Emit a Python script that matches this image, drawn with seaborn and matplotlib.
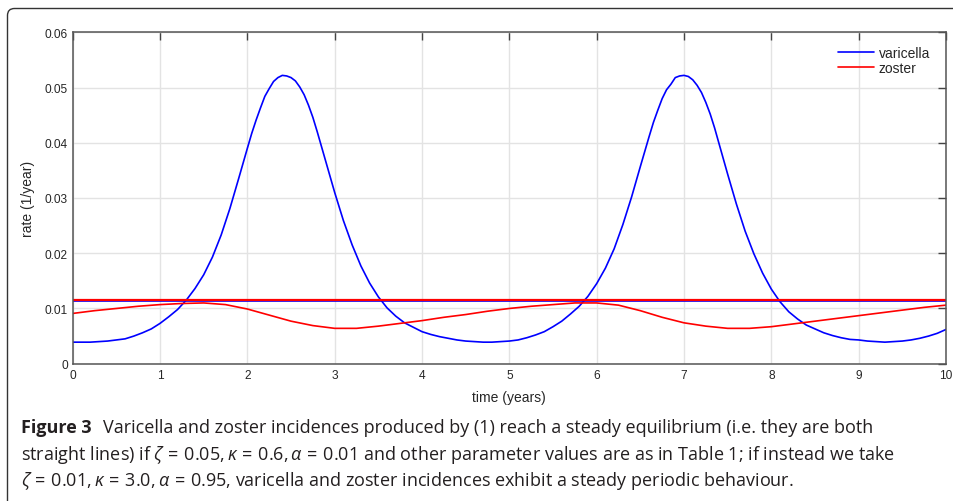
import numpy as np
import pandas as pd
import matplotlib
matplotlib.use("Agg")
import matplotlib.pyplot as plt
import seaborn as sns
from matplotlib.patches import FancyBboxPatch
from matplotlib.transforms import IdentityTransform

# ---------------- data ----------------
time = np.round(np.arange(0, 10.001, 0.1), 1)
varicella = [
    0.0039, 0.0039, 0.0039, 0.0040, 0.0041, 0.0043, 0.0045, 0.0050, 0.0056, 0.0063,
    0.0073, 0.0085, 0.0098, 0.0115, 0.0136, 0.0161, 0.0193, 0.0233, 0.0281, 0.0335,
    0.0390, 0.0441, 0.0484, 0.0511, 0.0522, 0.0518, 0.0501, 0.0468, 0.0420, 0.0365,
    0.0310, 0.0259, 0.0215, 0.0177, 0.0146, 0.0121, 0.0101, 0.0086, 0.0074, 0.0066,
    0.0058, 0.0053, 0.0049, 0.0046, 0.0043, 0.0041, 0.0040, 0.0039, 0.0039, 0.0040,
    0.0041, 0.0043, 0.0047, 0.0052, 0.0058, 0.0067, 0.0077, 0.0090, 0.0104, 0.0122,
    0.0145, 0.0173, 0.0208, 0.0252, 0.0302, 0.0357, 0.0411, 0.0459, 0.0496, 0.0518,
    0.0522, 0.0514, 0.0491, 0.0452, 0.0399, 0.0343, 0.0289, 0.0240, 0.0199, 0.0164,
    0.0135, 0.0112, 0.0094, 0.0081, 0.0070, 0.0063, 0.0056, 0.0051, 0.0047, 0.0044,
    0.0043, 0.0041, 0.0040, 0.0039, 0.0040, 0.0041, 0.0043, 0.0046, 0.0050, 0.0055,
    0.0062,
]
# extra readings around the two peaks
time_peaks = [2.05, 2.15, 2.25, 2.35, 2.45, 2.55, 2.65, 2.75,
              6.65, 6.75, 6.85, 6.95, 7.05, 7.15, 7.25, 7.35]
varicella_peaks = [0.0417, 0.0463, 0.0498, 0.0518, 0.0521, 0.0512, 0.0487, 0.0446,
                   0.0437, 0.0480, 0.0506, 0.0521, 0.0520, 0.0504, 0.0473, 0.0427]

time_zoster = np.round(np.arange(0, 10.001, 0.25), 2)
zoster = [
    0.0091, 0.0096, 0.0100, 0.0104, 0.0107, 0.0109, 0.0110, 0.0107, 0.0099, 0.0088,
    0.0077, 0.0069, 0.0064, 0.0064, 0.0068, 0.0073, 0.0078, 0.0084, 0.0089, 0.0095,
    0.0100, 0.0104, 0.0107, 0.0110, 0.0110, 0.0106, 0.0096, 0.0084, 0.0074, 0.0068,
    0.0064, 0.0064, 0.0067, 0.0072, 0.0077, 0.0082, 0.0087, 0.0092, 0.0097, 0.0102,
    0.0106,
]
time_steady = [0, 10]
varicella_steady = [0.01133, 0.01133]
zoster_steady = [0.01157, 0.01157]

xticks = list(range(0, 11))
yticks = [0, 0.01, 0.02, 0.03, 0.04, 0.05, 0.06]
ytick_labels = ["0", "0.01", "0.02", "0.03", "0.04", "0.05", "0.06"]
series_labels = ["varicella", "zoster"]

caption_lines = [
    [("Figure 3", "bold"),
     ("Varicella and zoster incidences produced by (1) reach a steady equilibrium (i.e. they are both", "normal")],
    [("straight lines) if $\\zeta\\,=\\,0.05,\\kappa\\,=\\,0.6,\\alpha\\,=\\,0.01$ and other parameter values are as in Table 1; if instead we take", "normal")],
    [("$\\zeta\\,=\\,0.01,\\kappa\\,=\\,3.0,\\alpha\\,=\\,0.95$, varicella and zoster incidences exhibit a steady periodic behaviour.", "normal")],
]

# ---------------- style ----------------
sns.set_theme(style="white")
plt.rcParams["font.family"] = ["Liberation Sans", "DejaVu Sans"]
plt.rcParams["mathtext.fontset"] = "custom"
plt.rcParams["mathtext.rm"] = "Open Sans"
plt.rcParams["mathtext.it"] = "Open Sans:italic"
plt.rcParams["mathtext.bf"] = "Open Sans:bold"

W, H = 954, 502
fig = plt.figure(figsize=(W / 100, H / 100), dpi=100)
fig.patch.set_facecolor("white")

ax_l, ax_r, ax_t, ax_b = 72.7, 946.0, 33.3, 364.7
ax = fig.add_axes([ax_l / W, 1 - ax_b / H, (ax_r - ax_l) / W, (ax_b - ax_t) / H])

df_var = pd.DataFrame({"time": np.concatenate([time, time_peaks]),
                       "rate": np.concatenate([varicella, varicella_peaks])}).sort_values("time")
df_zos = pd.DataFrame({"time": time_zoster, "rate": zoster})
df_vs = pd.DataFrame({"time": time_steady, "rate": varicella_steady})
df_zs = pd.DataFrame({"time": time_steady, "rate": zoster_steady})

blue, red = "#0000ff", "#ff0000"
sns.lineplot(data=df_var, x="time", y="rate", color=blue, lw=1.2, ax=ax, sort=True)
h_var = ax.lines[-1]
sns.lineplot(data=df_zos, x="time", y="rate", color=red, lw=1.2, ax=ax)
h_zos = ax.lines[-1]
sns.lineplot(data=df_vs, x="time", y="rate", color=blue, lw=1.2, ax=ax)
sns.lineplot(data=df_zs, x="time", y="rate", color=red, lw=1.6, ax=ax)

ax.set_xlim(0, 10)
ax.set_ylim(0, 0.06)
ax.set_xticks(xticks)
ax.set_xticklabels([str(v) for v in xticks])
ax.set_yticks(yticks)
ax.set_yticklabels(ytick_labels)
ax.grid(True, color="#e3e3e3", lw=1.0)
ax.set_axisbelow(True)
for s in ax.spines.values():
    s.set_visible(True)
    s.set_color("#555555")
    s.set_linewidth(1.1)
ax.tick_params(direction="in", top=True, right=True, length=6, width=1.0,
               color="#444444", labelcolor="#262626", labelsize=8.6, pad=3.5)
ax.set_xlabel("time (years)", fontsize=10, color="#262626")
ax.set_ylabel("rate (1/year)", fontsize=10, color="#262626")
ax.xaxis.set_label_coords(0.5, -(391.0 - ax_b) / (ax_b - ax_t))
ax.yaxis.set_label_coords((35.5 - ax_l) / (ax_r - ax_l), 0.5)

leg = ax.legend(handles=[h_var, h_zos], labels=series_labels, loc="upper left",
                bbox_to_anchor=(830.7 / W, 1 - 40.0 / H), bbox_transform=fig.transFigure,
                frameon=False, borderpad=0, handlelength=2.65, handletextpad=0.3,
                labelspacing=0.08, prop=dict(family="Liberation Sans", size=10))
for t in leg.get_texts():
    t.set_color("#262626")

# ---------------- frame around figure ----------------
frame = FancyBboxPatch((7.5, -40), 1100, H - 9.5 + 40,
                       boxstyle="round,pad=0,rounding_size=7",
                       transform=IdentityTransform(), fill=False,
                       ec="#333333", lw=1.0, clip_on=False)
fig.add_artist(frame)

# ---------------- caption ----------------
cap_family = ["Open Sans", "DejaVu Sans"]
baselines = [433.5, 460.0, 486.5]
cap_x0 = 21.5
gap_after_bold = 11.0
renderer = fig.canvas.get_renderer()


def place_caption(size):
    made = []
    widths = []
    for line, yb in zip(caption_lines, baselines):
        x = cap_x0
        for i, (txt, weight) in enumerate(line):
            if i > 0:
                x += gap_after_bold
            t = fig.text(x / W, 1 - yb / H, txt, fontsize=size, fontweight=weight,
                         family=cap_family, color="#231f20", ha="left", va="baseline")
            bb = t.get_window_extent(renderer=renderer)
            x = bb.x1
            made.append(t)
        widths.append(x - cap_x0)
    return made, widths


trial = 13.0
made, widths = place_caption(trial)
for t in made:
    t.remove()
size = trial * 850.0 / widths[0]
place_caption(size)

fig.savefig("out.png", dpi=100, facecolor="white")
